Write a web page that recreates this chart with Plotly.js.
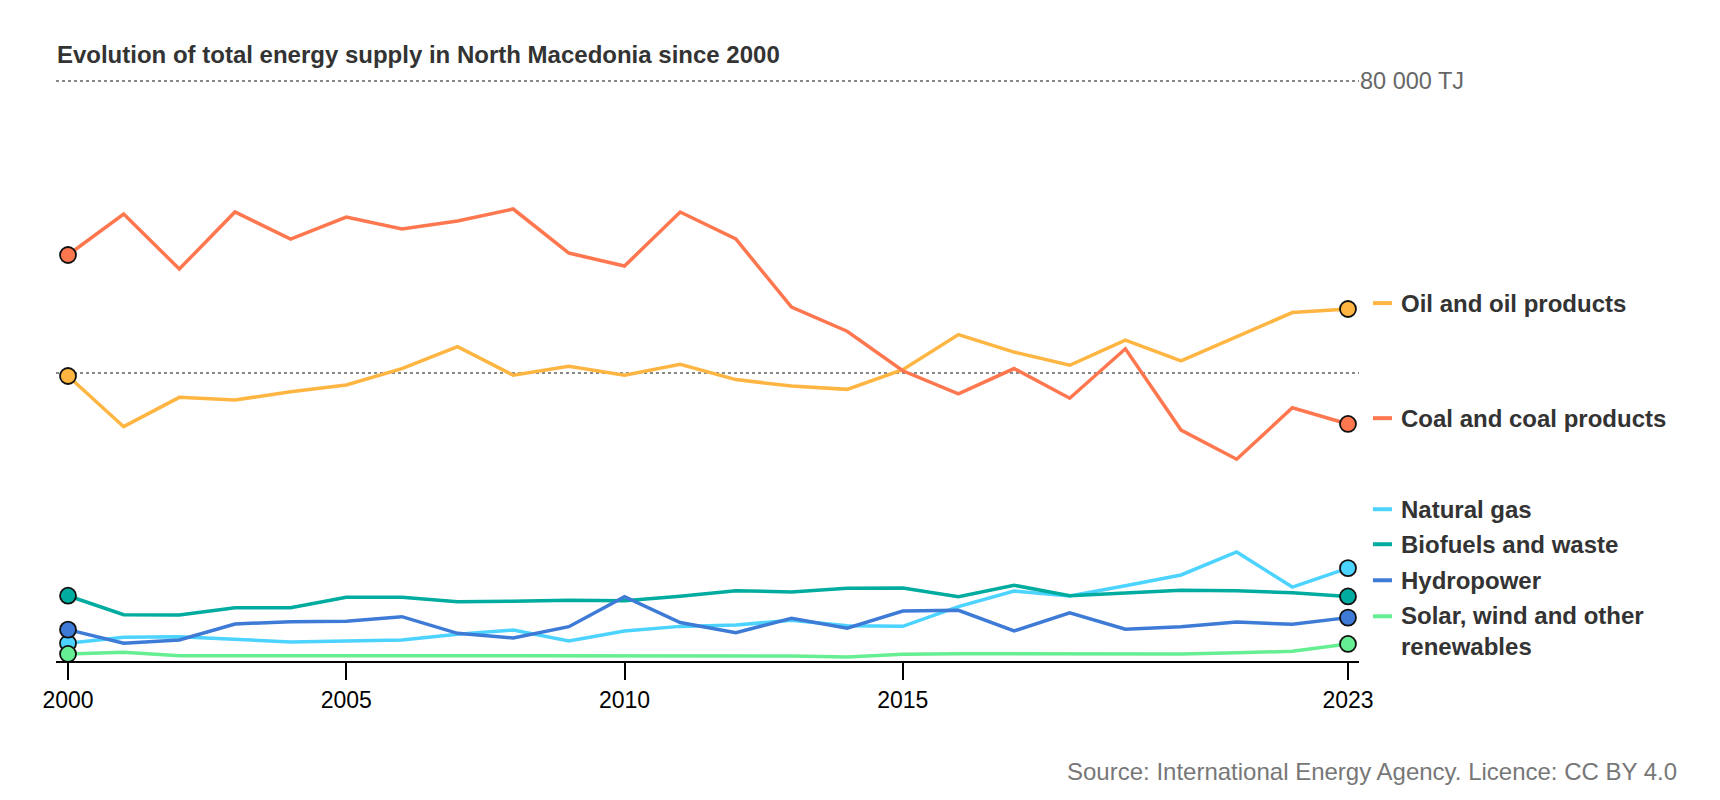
<!DOCTYPE html>
<html>
<head>
<meta charset="utf-8">
<script src="https://cdn.plot.ly/plotly-3.0.1.min.js"></script>
<style>
  html, body { margin: 0; padding: 0; background: #fff; }
  #chart { width: 1720px; height: 800px; }
</style>
</head>
<body>
<div id="chart"></div>
<script>
// Total energy supply, North Macedonia (TJ)
const years = [2000, 2001, 2002, 2003, 2004, 2005, 2006, 2007, 2008, 2009, 2010, 2011,
               2012, 2013, 2014, 2015, 2016, 2017, 2018, 2019, 2020, 2021, 2022, 2023];

const oil     = [39550, 32610, 36630, 36260, 37400, 38320, 40570, 43570, 39660, 40870, 39660, 41170,
                 39060, 38170, 37720, 40420, 45220, 42830, 41020, 44470, 41620, 44920, 48240, 48730];
const coal    = [56130, 61750, 54210, 62020, 58320, 61330, 59690, 60780, 62430, 56400, 54620, 62020,
                 58320, 49000, 45680, 40270, 37110, 40570, 36510, 43280, 32150, 28150, 35200, 32980];
const gas     = [2930, 3750, 3840, 3480, 3110, 3250, 3380, 4160, 4750, 3250, 4620, 5250,
                 5440, 6080, 5340, 5260, 7950, 10100, 9410, 10820, 12290, 15440, 10640, 13230];
const biofuel = [9450, 6850, 6810, 7810, 7810, 9230, 9230, 8630, 8690, 8820, 8770, 9380,
                 10140, 9960, 10470, 10510, 9320, 10880, 9450, 9820, 10190, 10140, 9860, 9350];
const hydro   = [4800, 2930, 3380, 5580, 5890, 5950, 6580, 4300, 3660, 5210, 9320, 5780,
                 4380, 6360, 4990, 7360, 7450, 4620, 7120, 4850, 5210, 5850, 5530, 6450];
const solar   = [1470, 1700, 1230, 1230, 1190, 1150, 1150, 1150, 1150, 1150, 1200, 1260,
                 1260, 1200, 1050, 1420, 1510, 1510, 1470, 1470, 1470, 1640, 1830, 2840];

const names = ["Oil and oil products", "Coal and coal products", "Natural gas",
               "Biofuels and waste", "Hydropower", "Solar, wind and other<br>renewables"];
const series = [oil, coal, gas, biofuel, hydro, solar];
const colors = ["#ffb541", "#ff774f", "#4cd3ff", "#00ab9f", "#3e7bd6", "#66ef92"];

// label placement (paper y) for the right-hand labels
const labelY = [0.6056, 0.4109, 0.2568, 0.1976, 0.1366, 0.0511];
const dashY  = [0.6056, 0.4109, 0.2568, 0.1976, 0.1366, 0.0757];

const FONT = "'Liberation Sans', Arial, Helvetica, sans-serif";

const traces = [];
series.forEach((v, i) => {
  traces.push({
    x: years, y: v, type: "scatter", mode: "lines",
    line: { color: colors[i], width: 3.5 },
    cliponaxis: false, hoverinfo: "skip", showlegend: false
  });
});
series.forEach((v, i) => {
  const last = v.length - 1;
  traces.push({
    x: [years[0], years[last]], y: [v[0], v[last]], type: "scatter", mode: "markers",
    marker: { color: colors[i], size: 16, line: { color: "#111", width: 1.8 } },
    cliponaxis: false, hoverinfo: "skip", showlegend: false
  });
});

const annotations = names.map((n, i) => ({
  xref: "paper", yref: "paper", x: 1.0306, y: labelY[i], xanchor: "left", yanchor: "middle",
  text: "<b>" + n + "</b>", showarrow: false, align: "left",
  font: { family: FONT, size: 24, color: "#333" }
}));
annotations.push({
  xref: "paper", yref: "paper", x: 1.2456, y: -0.1867, xanchor: "right", yanchor: "middle",
  text: "Source: International Energy Agency. Licence: CC BY 4.0", showarrow: false,
  font: { family: FONT, size: 24, color: "#777" }
});

const shapes = colors.map((c, i) => ({
  type: "line", xref: "paper", yref: "paper", x0: 1.0107, x1: 1.0253, y0: dashY[i], y1: dashY[i],
  line: { color: c, width: 4 }
}));

const layout = {
  width: 1720, height: 800,
  paper_bgcolor: "#fff", plot_bgcolor: "#fff",
  margin: { l: 56, r: 361, t: 70, b: 139 },
  font: { family: FONT, size: 23, color: "#000" },
  title: {
    text: "<b>Evolution of total energy supply in North Macedonia since 2000</b>",
    x: 0.0331, xanchor: "left", xref: "container",
    y: 1 - 55 / 800, yanchor: "middle", yref: "container",
    font: { family: FONT, size: 24, color: "#333" }
  },
  xaxis: {
    range: [1999.784, 2023.198], showgrid: false, zeroline: false,
    showline: true, linecolor: "#000", linewidth: 2,
    ticks: "outside", ticklen: 17, tickwidth: 2, tickcolor: "#000",
    tickvals: [2000, 2005, 2010, 2015, 2023], ticktext: ["2000", "2005", "2010", "2015", "2023"],
    tickfont: { family: FONT, size: 23, color: "#000" }
  },
  yaxis: {
    range: [507, 81474], side: "right", zeroline: false, showline: false,
    showgrid: true, gridcolor: "#888", gridwidth: 1.8, griddash: "dot",
    tickvals: [40000, 80000], ticktext: ["", "80 000 TJ"], ticks: "",
    tickfont: { family: FONT, size: 23.5, color: "#666" }
  },
  showlegend: false,
  annotations: annotations,
  shapes: shapes
};

Plotly.newPlot("chart", traces, layout, { displayModeBar: false, staticPlot: true });
</script>
</body>
</html>
